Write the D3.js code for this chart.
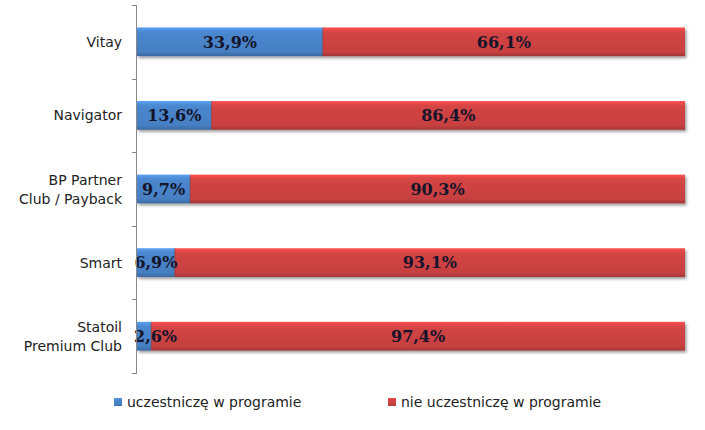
<!DOCTYPE html>
<html><head><meta charset="utf-8">
<script src="https://cdn.jsdelivr.net/npm/d3@7"></script>
<style>body{margin:0;background:#fff}svg{display:block}</style>
</head><body>
<svg id="c" width="705" height="430"></svg>
<script>
const categories = [["Vitay"],["Navigator"],["BP Partner","Club / Payback"],["Smart"],["Statoil","Premium Club"]];
const participating = [33.9, 13.6, 9.7, 6.9, 2.6];
const notParticipating = [66.1, 86.4, 90.3, 93.1, 97.4];
const seriesNames = ["uczestniczę w programie", "nie uczestniczę w programie"];
const seriesColors = ["#4a86cd", "#d24444"];

(function(){
const svg = d3.select("#c");
const mLeft = 137, mRight = 685, mTop = 5, mBottom = 373;
const keys = categories.map((c,i)=>i);
const x = d3.scaleLinear().domain([0,100]).range([mLeft,mRight]);
const y = d3.scaleBand().domain(keys).range([mTop,mBottom]).paddingInner(0.61).paddingOuter(0.305);

const defs = svg.append("defs");
seriesColors.forEach((c,i)=>{
  const g = defs.append("linearGradient").attr("id","g"+i).attr("x1",0).attr("y1",0).attr("x2",0).attr("y2",1);
  const col = d3.color(c);
  g.append("stop").attr("offset","0%").attr("stop-color",col.brighter(0.5));
  g.append("stop").attr("offset","14%").attr("stop-color",col.brighter(0.1));
  g.append("stop").attr("offset","22%").attr("stop-color",c);
  g.append("stop").attr("offset","85%").attr("stop-color",col.darker(0.15));
  g.append("stop").attr("offset","100%").attr("stop-color",col.darker(0.7));
});
const f = defs.append("filter").attr("id","sh").attr("x","-5%").attr("y","-20%").attr("width","110%").attr("height","160%");
f.append("feDropShadow").attr("dx",1.5).attr("dy",2).attr("stdDeviation",1.5).attr("flood-color","#000").attr("flood-opacity",0.4);

const stack = keys.map(i=>[[0,participating[i]],[participating[i],participating[i]+notParticipating[i]]]);

const bars = svg.append("g");
keys.forEach(i=>{
  const g = bars.append("g").attr("filter","url(#sh)");
  stack[i].forEach((s,j)=>{
    g.append("rect").attr("x",x(s[0])).attr("y",y(i)).attr("width",x(s[1])-x(s[0])).attr("height",y.bandwidth())
      .attr("fill","url(#g"+j+")");
  });
});
keys.forEach(i=>{
  bars.append("line").attr("x1",x(participating[i])).attr("x2",x(participating[i]))
    .attr("y1",y(i)).attr("y2",y(i)+y.bandwidth()).attr("stroke","#7a2a2a").attr("stroke-opacity",0.5).attr("stroke-width",1);
});

const fmt = v => v.toFixed(1).replace(".",",")+"%";
keys.forEach(i=>{
  stack[i].forEach((s,j)=>{
    const t = svg.append("text").attr("y",y(i)+y.bandwidth()/2).attr("dy","0.36em")
      .attr("text-anchor","middle").attr("font-family","DejaVu Serif").attr("font-weight","bold")
      .attr("font-size",16).attr("fill","#14142a").text(fmt(j===0?participating[i]:notParticipating[i]));
    const w = t.node().getComputedTextLength();
    t.attr("x", Math.max((x(s[0])+x(s[1]))/2, mLeft + w/2 - 3));
  });
});

const axisG = svg.append("g");
axisG.append("line").attr("x1",mLeft-0.5).attr("x2",mLeft-0.5).attr("y1",mTop).attr("y2",mBottom).attr("stroke","#888");
const tickY = keys.map(i=>y(i)-y.step()*y.paddingInner()/2).concat([mBottom]);
tickY.forEach(t=>axisG.append("line").attr("x1",mLeft-5).attr("x2",mLeft).attr("y1",Math.round(t)+0.5).attr("y2",Math.round(t)+0.5).attr("stroke","#888"));
keys.forEach(i=>{
  const lines = categories[i];
  const cy = y(i)+y.bandwidth()/2;
  const t = axisG.append("text").attr("text-anchor","end").attr("font-family","DejaVu Sans").attr("font-size",14).attr("fill","#222");
  lines.forEach((l,k)=>{
    t.append("tspan").attr("x",mLeft-15).attr("y",cy+(k-(lines.length-1)/2)*19).attr("dy","0.36em").text(l);
  });
});

const legX = [114, 388];
seriesNames.forEach((n,j)=>{
  const g = svg.append("g").attr("transform",`translate(${legX[j]},398)`);
  g.append("rect").attr("width",8).attr("height",8).attr("fill","url(#g"+j+")");
  g.append("text").attr("x",13).attr("y",4).attr("dy","0.36em").attr("font-family","DejaVu Sans").attr("font-size",14).attr("fill","#222").text(n);
});
})();
</script>
</body></html>
